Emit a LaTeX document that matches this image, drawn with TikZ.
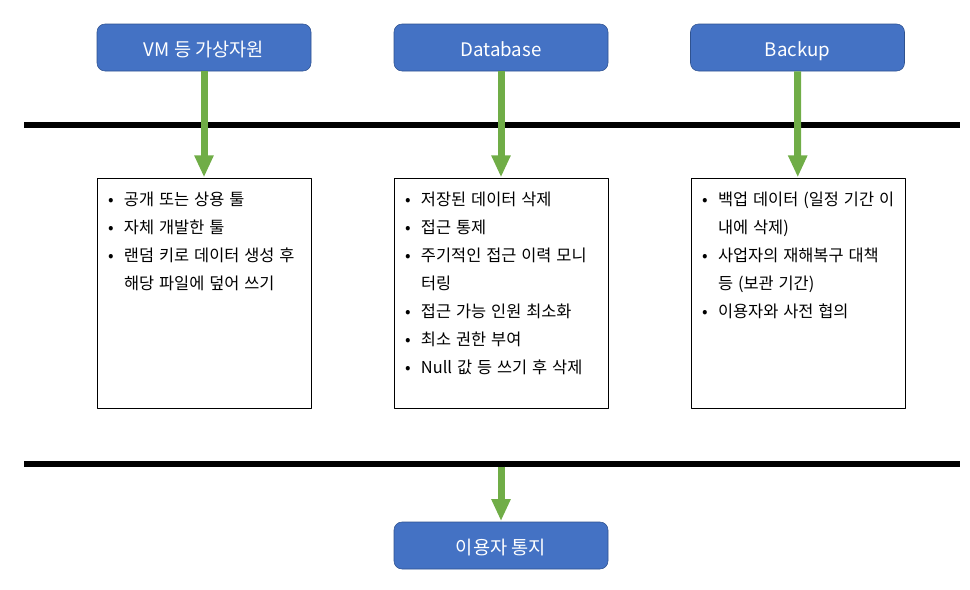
\documentclass[tikz,border=0pt]{standalone}
\usepackage{fontspec}
\setmainfont{Noto Sans CJK KR}
\usetikzlibrary{arrows.meta}

\definecolor{headfill}{HTML}{4472C4}
\definecolor{headedge}{HTML}{2F528F}
\definecolor{flowgreen}{HTML}{70AD47}

\tikzset{
  head/.style={draw=headedge, fill=headfill, text=white, rounded corners=6pt,
    minimum width=160.5pt, minimum height=35.25pt, inner sep=0pt,
    text height=14pt, text depth=0.5pt,
    font=\fontsize{14}{16}\selectfont},
  listbox/.style={draw=black, line width=0.6pt, anchor=north, inner xsep=8.25pt,
    inner ysep=5.5pt, font=\fontsize{12.3}{21}\selectfont},
  divider/.style={line width=4.5pt},
  flow/.style={draw=flowgreen, line width=5.25pt,
    -{Triangle[width=13.5pt,length=16.5pt]}, shorten >=0.5pt}
}

% bullet list kept inside a fixed-height box
\newcommand{\blist}[1]{%
  \begin{minipage}[c][161.5pt][t]{144pt}
    \spaceskip=0.3em plus 0.1em
    \begin{tabular}[t]{@{}p{12pt}@{}l@{}}#1\end{tabular}
  \end{minipage}}
\newcommand{\bl}{\textbullet}

\begin{document}
\begin{tikzpicture}[x=0.75pt,y=-0.75pt,line join=round]
    \useasboundingbox (0,0) rectangle (970,589);

    % headings
    \node[head] (vm) at (204,47.5) {VM 등 가상자원};
    \node[head] (db) at (501,47.5) {Database};
    \node[head] (backup) at (797.5,47.5) {Backup};

    % dividers
    \coordinate (topL) at (24,125);
    \coordinate (topR) at (960,125);
    \coordinate (botL) at (24,464);
    \coordinate (botR) at (960,464);
    \coordinate (botmid) at (501,464);
    \draw[divider] (topL) -- (topR);
    \draw[divider] (botL) -- (botR);

    % lists
    \node[listbox] (vmlist) at (204,178) {\blist{%
      \bl & 공개 또는 상용 툴\\
      \bl & 자체 개발한 툴\\
      \bl & 랜덤 키로 데이터 생성 후\\
          & 해당 파일에 덮어 쓰기}};
    \node[listbox] (dblist) at (501,178) {\blist{%
      \bl & 저장된 데이터 삭제\\
      \bl & 접근 통제\\
      \bl & 주기적인 접근 이력 모니\\
          & 터링\\
      \bl & 접근 가능 인원 최소화\\
      \bl & 최소 권한 부여\\
      \bl & Null 값 등 쓰기 후 삭제}};
    \node[listbox] (backuplist) at (798,178) {\blist{%
      \bl & 백업 데이터 (일정 기간 이\\
          & 내에 삭제)\\
      \bl & 사업자의 재해복구 대책\\
          & 등 (보관 기간)\\
      \bl & 이용자와 사전 협의}};

    % notice
    \node[head] (notice) at (501,545.5) {이용자 통지};

    \draw[flow] (vm) -- (vmlist);
    \draw[flow] (db) -- (dblist);
    \draw[flow] (backup) -- (backuplist);
    \draw[flow] ([yshift=-2pt]botmid) -- (notice);
\end{tikzpicture}
\end{document}
